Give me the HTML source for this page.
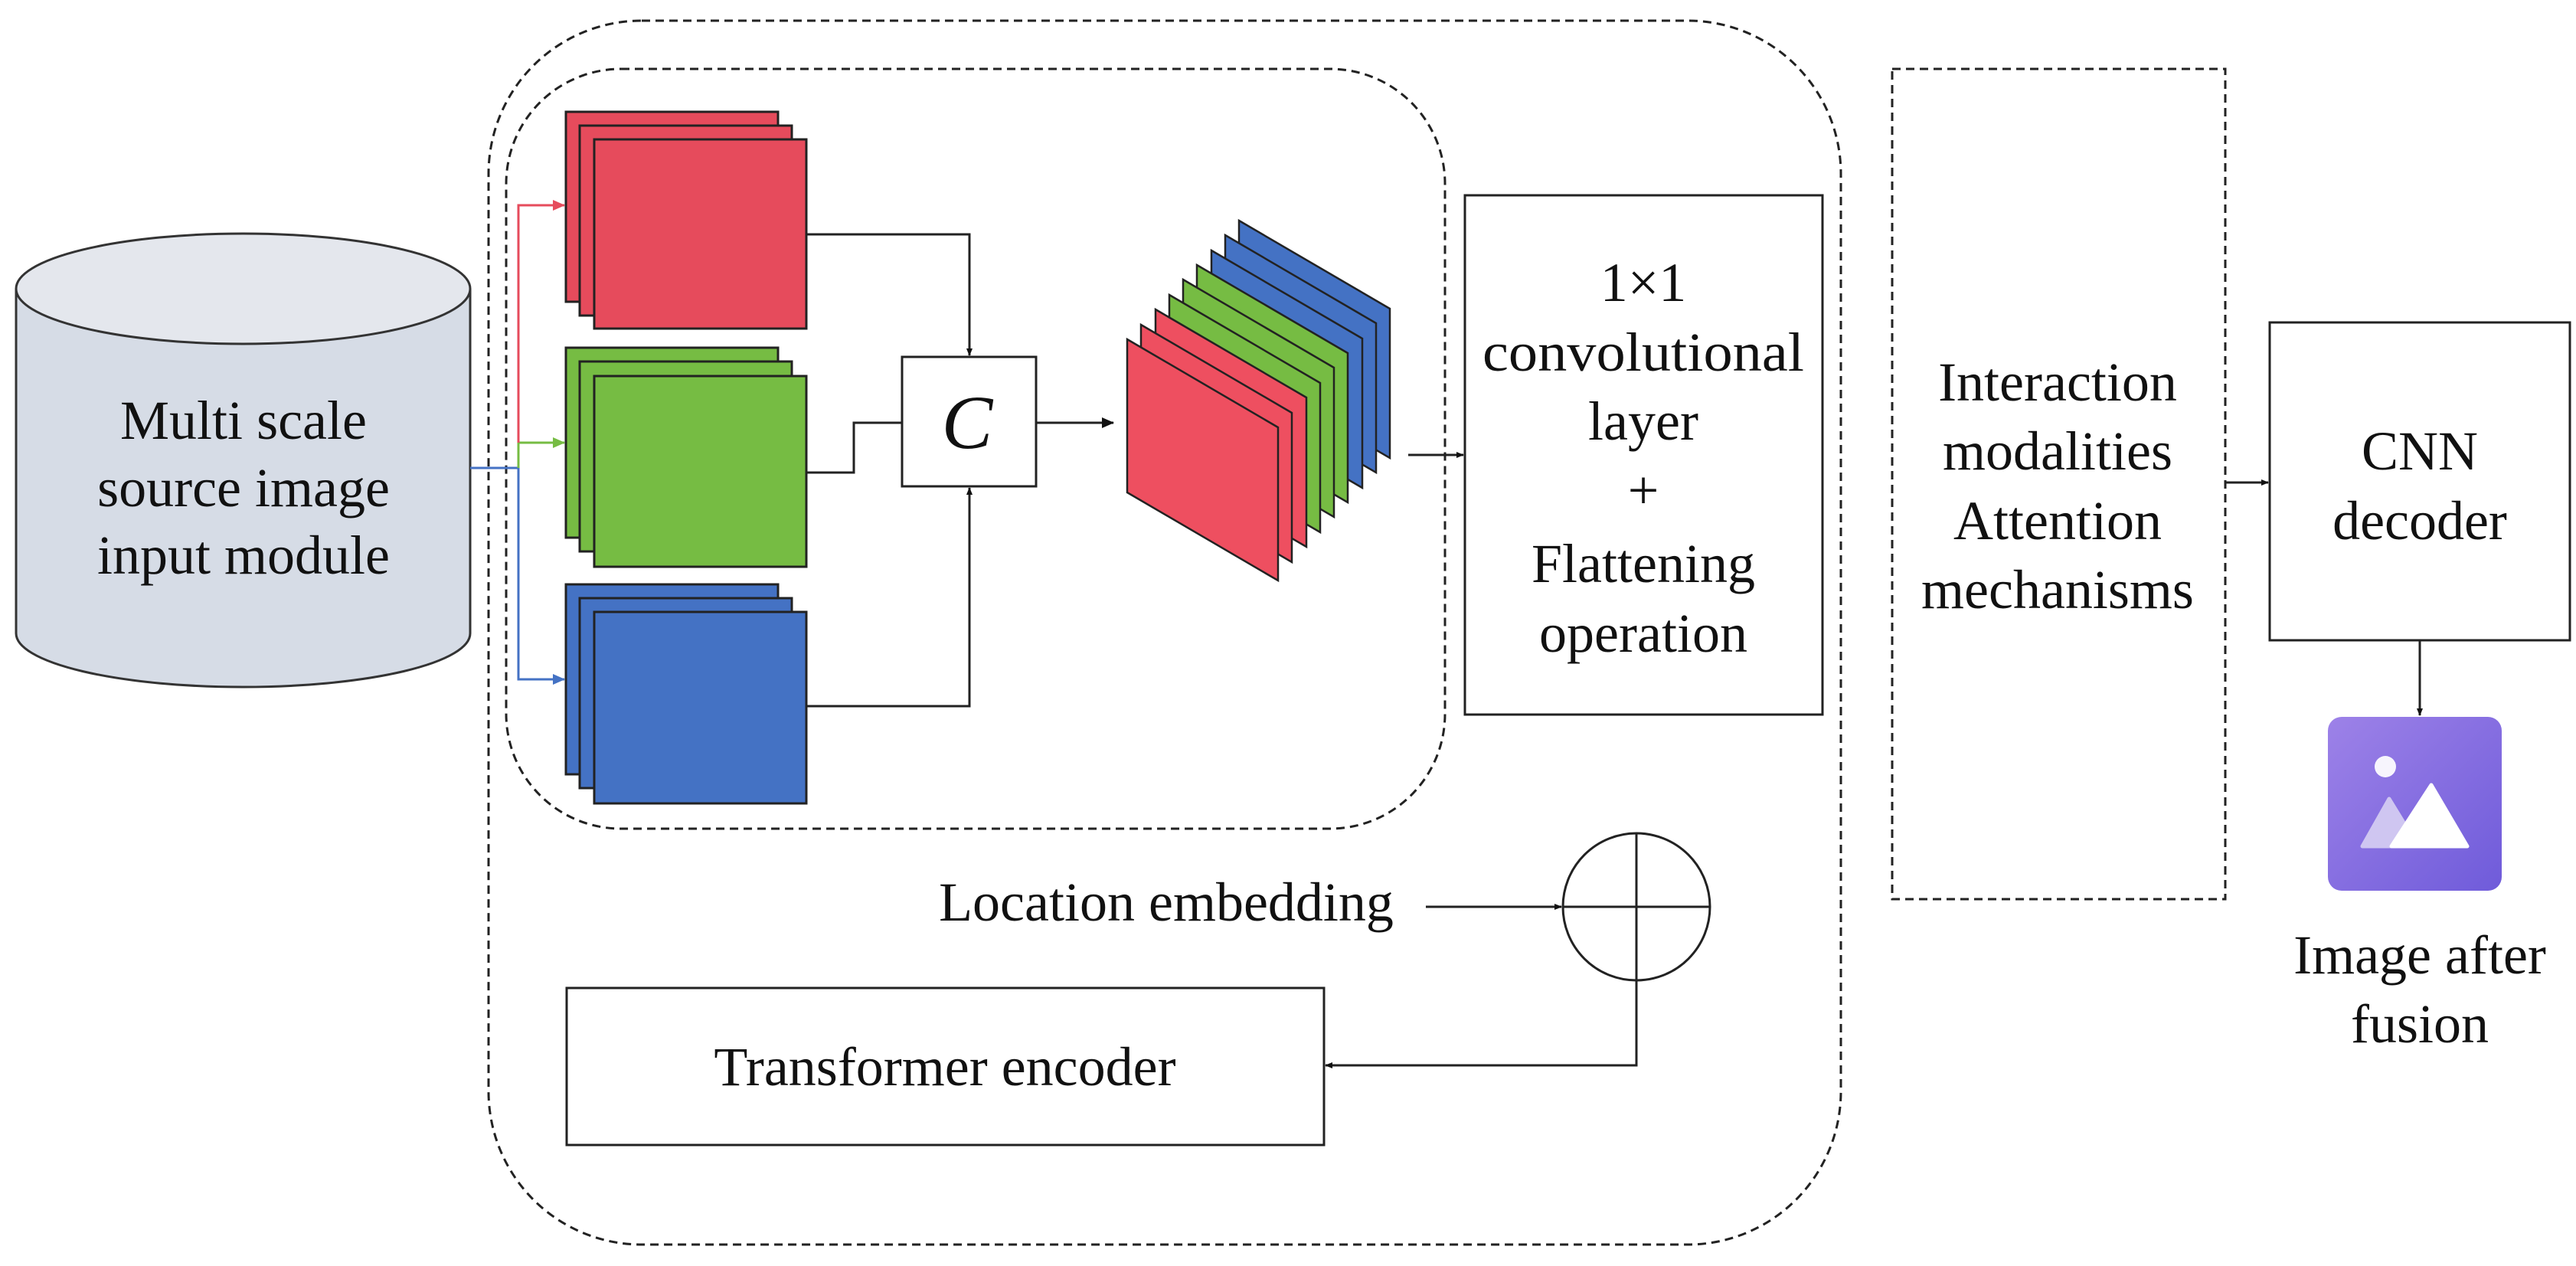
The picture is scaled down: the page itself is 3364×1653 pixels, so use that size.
<!DOCTYPE html>
<html><head><meta charset="utf-8"><style>
html,body{margin:0;padding:0;background:#fff;}
svg{display:block;}
text{font-family:"Liberation Serif",serif;fill:#111;}
</style></head><body>
<svg width="3364" height="1653" viewBox="0 0 3364 1653" xmlns="http://www.w3.org/2000/svg">
<defs>
<marker id="ak" markerWidth="10" markerHeight="8" refX="9" refY="4" orient="auto" markerUnits="userSpaceOnUse"><path d="M0,0 L10,4 L0,8 z" fill="#111"/></marker>
<marker id="akb" markerWidth="16" markerHeight="14" refX="15" refY="7" orient="auto" markerUnits="userSpaceOnUse"><path d="M0,0 L16,7 L0,14 z" fill="#111"/></marker>
<marker id="ar" markerWidth="16" markerHeight="14" refX="15" refY="7" orient="auto" markerUnits="userSpaceOnUse"><path d="M0,0 L16,7 L0,14 z" fill="#E64B5C"/></marker>
<marker id="ag" markerWidth="16" markerHeight="14" refX="15" refY="7" orient="auto" markerUnits="userSpaceOnUse"><path d="M0,0 L16,7 L0,14 z" fill="#76BC43"/></marker>
<marker id="ab" markerWidth="16" markerHeight="14" refX="15" refY="7" orient="auto" markerUnits="userSpaceOnUse"><path d="M0,0 L16,7 L0,14 z" fill="#4472C4"/></marker>
<linearGradient id="pg" x1="0" y1="0" x2="1" y2="1"><stop offset="0" stop-color="#9D82E8"/><stop offset="1" stop-color="#6F5BDA"/></linearGradient>
</defs>

<path d="M21,377 L21,827 A296.5,70 0 0 0 614,827 L614,377" fill="#D6DCE6" stroke="#333" stroke-width="3"/>
<ellipse cx="317.5" cy="377" rx="296.5" ry="72" fill="#E4E7ED" stroke="#333" stroke-width="3"/>
<g font-size="72" text-anchor="middle">
<text x="318" y="573">Multi scale</text>
<text x="318" y="661">source image</text>
<text x="318" y="749">input module</text>
</g>

<rect x="638" y="27" width="1766" height="1598" rx="200" ry="200" fill="none" stroke="#222" stroke-width="3" stroke-dasharray="11,7"/>
<rect x="661" y="90" width="1226" height="992" rx="150" ry="150" fill="none" stroke="#222" stroke-width="3" stroke-dasharray="11,7"/>
<rect x="2471" y="90" width="435" height="1084" fill="none" stroke="#222" stroke-width="3" stroke-dasharray="11,7"/>

<path d="M614,611 L677,611 L677,887 L737,887" fill="none" stroke="#4472C4" stroke-width="3" marker-end="url(#ab)"/>
<path d="M677,611 L677,578 L737,578" fill="none" stroke="#76BC43" stroke-width="3" marker-end="url(#ag)"/>
<path d="M677,578 L677,268 L737,268" fill="none" stroke="#E64B5C" stroke-width="3" marker-end="url(#ar)"/>

<g stroke="#222" stroke-width="3">
<rect x="739" y="146" width="277" height="248" fill="#E64B5C"/>
<rect x="757" y="164" width="277" height="248" fill="#E64B5C"/>
<rect x="776" y="182" width="277" height="247" fill="#E64B5C"/>
<rect x="739" y="454" width="277" height="248" fill="#76BC43"/>
<rect x="757" y="472" width="277" height="248" fill="#76BC43"/>
<rect x="776" y="491" width="277" height="249" fill="#76BC43"/>
<rect x="739" y="763" width="277" height="248" fill="#4472C4"/>
<rect x="757" y="781" width="277" height="248" fill="#4472C4"/>
<rect x="776" y="799" width="277" height="250" fill="#4472C4"/>
</g>

<g fill="none" stroke="#222" stroke-width="3">
<path d="M1053,306 L1266,306 L1266,464" marker-end="url(#ak)"/>
<path d="M1053,617 L1115,617 L1115,552 L1178,552"/>
<path d="M1053,922 L1266,922 L1266,637" marker-end="url(#ak)"/>
<path d="M1353,552 L1454,552" marker-end="url(#akb)"/>
</g>
<rect x="1178" y="466" width="175" height="169" fill="#fff" stroke="#222" stroke-width="3"/>
<text x="1263" y="585" font-size="100" font-style="italic" text-anchor="middle">C</text>

<g stroke="#222" stroke-width="2.5">
<polygon points="1618,288 1815,403 1815,598 1618,483" fill="#4472C4"/>
<polygon points="1600,307 1797,422 1797,617 1600,502" fill="#4472C4"/>
<polygon points="1582,327 1779,442 1779,637 1582,522" fill="#4472C4"/>
<polygon points="1563,346 1760,461 1760,656 1563,541" fill="#76BC43"/>
<polygon points="1545,365 1742,480 1742,675 1545,560" fill="#76BC43"/>
<polygon points="1527,385 1724,500 1724,695 1527,580" fill="#76BC43"/>
<polygon points="1509,404 1706,519 1706,714 1509,599" fill="#EE4F60"/>
<polygon points="1490,424 1687,539 1687,734 1490,619" fill="#EE4F60"/>
<polygon points="1472,443 1669,558 1669,758 1472,643" fill="#EE4F60"/>
</g>

<path d="M1839,594 L1911,594" fill="none" stroke="#222" stroke-width="3" marker-end="url(#ak)"/>
<rect x="1913" y="255" width="467" height="678" fill="#fff" stroke="#222" stroke-width="3"/>
<g font-size="72" text-anchor="middle">
<text x="2146" y="393">1×1</text>
<text x="2146" y="484" textLength="420" lengthAdjust="spacingAndGlyphs">convolutional</text>
<text x="2146" y="574">layer</text>
<text x="2146" y="664">+</text>
<text x="2146" y="760">Flattening</text>
<text x="2146" y="851">operation</text>
</g>

<g font-size="72" text-anchor="middle">
<text x="2687" y="523">Interaction</text>
<text x="2687" y="613">modalities</text>
<text x="2687" y="704">Attention</text>
<text x="2687" y="794">mechanisms</text>
</g>
<path d="M2906,630 L2962,630" fill="none" stroke="#222" stroke-width="3" marker-end="url(#ak)"/>

<rect x="2964" y="421" width="392" height="415" fill="#fff" stroke="#222" stroke-width="3"/>
<text x="3160" y="613" font-size="72" text-anchor="middle">CNN</text>
<text x="3160" y="704" font-size="72" text-anchor="middle">decoder</text>
<path d="M3160,836 L3160,934" fill="none" stroke="#222" stroke-width="3" marker-end="url(#ak)"/>

<rect x="3040" y="936" width="227" height="227" rx="18" fill="url(#pg)"/>
<circle cx="3115" cy="1001" r="14" fill="#F7F5FD"/>
<path d="M3085,1105 L3120,1043 L3150,1092 L3140,1105 Z" fill="#CFC6F1" stroke="#CFC6F1" stroke-width="5" stroke-linejoin="round"/>
<path d="M3123,1105 L3175,1025 L3222,1105 Z" fill="#fff" stroke="#fff" stroke-width="5" stroke-linejoin="round"/>
<text x="3160" y="1271" font-size="72" text-anchor="middle">Image after</text>
<text x="3160" y="1361" font-size="72" text-anchor="middle">fusion</text>

<text x="1523" y="1202" font-size="72" text-anchor="middle">Location embedding</text>
<path d="M1862,1184 L2039,1184" fill="none" stroke="#222" stroke-width="3" marker-end="url(#ak)"/>
<circle cx="2137" cy="1184" r="96" fill="#fff" stroke="#222" stroke-width="3"/>
<path d="M2041,1184 L2233,1184 M2137,1088 L2137,1280" stroke="#222" stroke-width="3"/>
<path d="M2137,1280 L2137,1391 L1731,1391" fill="none" stroke="#222" stroke-width="3" marker-end="url(#ak)"/>
<rect x="740" y="1290" width="989" height="205" fill="#fff" stroke="#222" stroke-width="3"/>
<text x="1234" y="1417" font-size="72" text-anchor="middle">Transformer encoder</text>
</svg>
</body></html>
